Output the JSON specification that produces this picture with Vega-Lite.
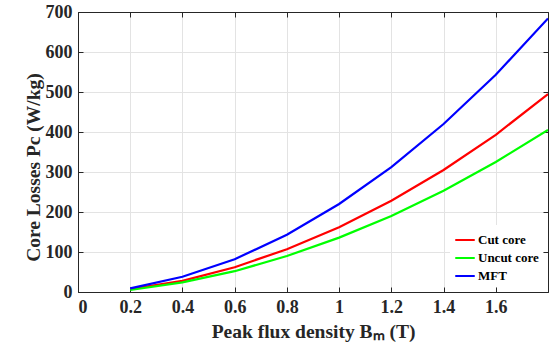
{
  "$schema": "https://vega.github.io/schema/vega-lite/v6.json",
  "width": 470,
  "height": 280,
  "autosize": "none",
  "padding": {"left": 78, "top": 12, "right": 2, "bottom": 58},
  "background": "white",
  "config": {
    "view": {"stroke": "#262626", "strokeWidth": 1},
    "font": "Liberation Serif",
    "axis": {
      "labelFont": "Liberation Serif",
      "labelFontWeight": "bold",
      "labelFontSize": 18,
      "labelColor": "#262626",
      "titleFont": "Liberation Serif",
      "titleFontWeight": "bold",
      "titleFontSize": 19.5,
      "titleColor": "#262626",
      "domainColor": "#262626",
      "tickColor": "#262626",
      "tickSize": -5,
      "gridColor": "#e3e3e3",
      "gridWidth": 1
    }
  },
  "data": {
    "values": [
      {"B": 0.2, "P": 7, "s": "Cut core"},
      {"B": 0.4, "P": 28, "s": "Cut core"},
      {"B": 0.6, "P": 62, "s": "Cut core"},
      {"B": 0.8, "P": 107, "s": "Cut core"},
      {"B": 1.0, "P": 162, "s": "Cut core"},
      {"B": 1.2, "P": 228, "s": "Cut core"},
      {"B": 1.4, "P": 305, "s": "Cut core"},
      {"B": 1.6, "P": 393, "s": "Cut core"},
      {"B": 1.8, "P": 495, "s": "Cut core"},
      {"B": 0.2, "P": 5, "s": "Uncut core"},
      {"B": 0.4, "P": 24, "s": "Uncut core"},
      {"B": 0.6, "P": 52, "s": "Uncut core"},
      {"B": 0.8, "P": 90, "s": "Uncut core"},
      {"B": 1.0, "P": 136, "s": "Uncut core"},
      {"B": 1.2, "P": 190, "s": "Uncut core"},
      {"B": 1.4, "P": 253, "s": "Uncut core"},
      {"B": 1.6, "P": 325, "s": "Uncut core"},
      {"B": 1.8, "P": 405, "s": "Uncut core"},
      {"B": 0.2, "P": 9, "s": "MFT"},
      {"B": 0.4, "P": 38, "s": "MFT"},
      {"B": 0.6, "P": 82, "s": "MFT"},
      {"B": 0.8, "P": 143, "s": "MFT"},
      {"B": 1.0, "P": 220, "s": "MFT"},
      {"B": 1.2, "P": 312, "s": "MFT"},
      {"B": 1.4, "P": 420, "s": "MFT"},
      {"B": 1.6, "P": 543, "s": "MFT"},
      {"B": 1.8, "P": 684, "s": "MFT"}
    ]
  },
  "layer": [
    {
      "mark": {"type": "line", "strokeWidth": 2.2, "clip": true},
      "encoding": {
        "x": {
          "field": "B", "type": "quantitative",
          "scale": {"domain": [0, 1.8], "nice": false, "zero": true},
          "axis": {
            "orient": "bottom",
            "values": [0, 0.2, 0.4, 0.6, 0.8, 1, 1.2, 1.4, 1.6],
            "format": "~g",
            "labelPadding": 11,
            "title": "Peak flux density Bₘ (T)",
            "titlePadding": 6
          }
        },
        "y": {
          "field": "P", "type": "quantitative",
          "scale": {"domain": [0, 700], "nice": false},
          "axis": {
            "orient": "left",
            "values": [0, 100, 200, 300, 400, 500, 600, 700],
            "labelPadding": 11,
            "title": "Core Losses Pc (W/kg)",
            "titlePadding": 2,
            "titleY": 155
          }
        },
        "color": {
          "field": "s", "type": "nominal",
          "scale": {"domain": ["Cut core", "Uncut core", "MFT"], "range": ["#ff0000", "#00ff00", "#0000ff"]},
          "legend": {
            "title": null,
            "orient": "bottom-right",
            "offset": 5,
            "fillColor": "white",
            "padding": 4,
            "symbolType": "stroke",
            "symbolStrokeWidth": 2,
            "symbolSize": 380,
            "labelFont": "Liberation Serif",
            "labelFontWeight": "bold",
            "labelFontSize": 13,
            "labelColor": "#000000",
            "rowPadding": -6,
            "labelOffset": 2
          }
        }
      }
    },
    {
      "mark": {"type": "line", "opacity": 0},
      "encoding": {
        "x": {
          "field": "B", "type": "quantitative",
          "axis": {"orient": "top", "values": [0, 0.2, 0.4, 0.6, 0.8, 1, 1.2, 1.4, 1.6], "labels": false, "grid": false, "title": null}
        },
        "y": {
          "field": "P", "type": "quantitative",
          "axis": {"orient": "right", "values": [0, 100, 200, 300, 400, 500, 600, 700], "labels": false, "grid": false, "title": null}
        }
      }
    }
  ],
  "resolve": {"axis": {"x": "independent", "y": "independent"}}
}
